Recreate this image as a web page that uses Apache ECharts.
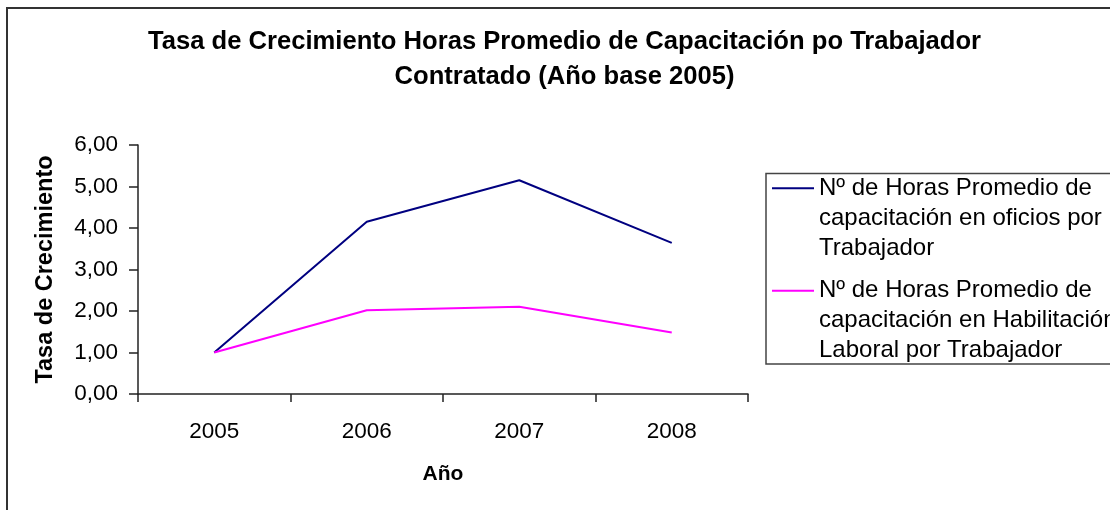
<!DOCTYPE html>
<html>
<head>
<meta charset="utf-8">
<script src="https://cdn.jsdelivr.net/npm/echarts@6/dist/echarts.min.js"></script>
<style>
html,body{margin:0;padding:0;background:#fff;}
#c{width:1110px;height:510px;}
</style>
</head>
<body>
<div id="c"></div>
<script>
var titleLines = ['Tasa de Crecimiento Horas Promedio de Capacitación po Trabajador', 'Contratado (Año base 2005)'];
var years = ['2005', '2006', '2007', '2008'];
var oficios = [1.00, 4.15, 5.15, 3.64];
var habilitacion = [1.00, 2.02, 2.10, 1.48];
var legendOficios = ['Nº de Horas Promedio de', 'capacitación en oficios por', 'Trabajador'];
var legendHabilitacion = ['Nº de Horas Promedio de', 'capacitación en Habilitación', 'Laboral por Trabajador'];
var yAxisName = 'Tasa de Crecimiento';
var xAxisName = 'Año';

var FONT = '"Liberation Sans", Arial, sans-serif';
var nameOf = legendOficios.join(' ');
var nameHab = legendHabilitacion.join(' ');
var legendMap = {};
// two leading empty lines keep the icon level with the first text line
legendMap[nameOf] = '\n\n' + legendOficios.join('\n');
legendMap[nameHab] = '\n\n' + legendHabilitacion.join('\n');

function legendCfg(name, top) {
  return {
    data: [name],
    left: 772,
    top: top,
    padding: 0,
    orient: 'vertical',
    icon: 'rect',
    itemWidth: 42,
    itemHeight: 2,
    selectedMode: false,
    formatter: function (n) { return legendMap[n]; },
    textStyle: {
      fontFamily: FONT,
      fontSize: 24,
      color: '#000',
      lineHeight: 30
    }
  };
}

var chart = echarts.init(document.getElementById('c'), null, {renderer: 'canvas'});
chart.setOption({
  animation: false,
  backgroundColor: '#fff',
  title: {
    text: titleLines.join('\n'),
    left: 564.5,
    top: 24,
    padding: 0,
    textAlign: 'center',
    textStyle: {
      fontFamily: FONT,
      fontSize: 25.6,
      fontWeight: 'bold',
      color: '#000',
      lineHeight: 35
    }
  },
  graphic: [
    {
      type: 'rect',
      shape: {x: 7, y: 8, width: 1120, height: 520},
      style: {fill: 'none', stroke: '#333', lineWidth: 2},
      silent: true
    },
    {
      type: 'rect',
      shape: {x: 766, y: 173.5, width: 400, height: 190.5},
      style: {fill: 'none', stroke: '#444', lineWidth: 1.5},
      silent: true
    }
  ],
  legend: [
    legendCfg(nameOf, 113.3),
    legendCfg(nameHab, 215.7)
  ],
  grid: {left: 138, right: 362, top: 145, bottom: 116, containLabel: false},
  xAxis: {
    type: 'category',
    data: years,
    boundaryGap: true,
    name: xAxisName,
    nameLocation: 'middle',
    nameGap: 70,
    nameTextStyle: {fontFamily: FONT, fontSize: 21, fontWeight: 'bold', color: '#000'},
    axisLine: {lineStyle: {color: '#222', width: 1.5}},
    axisTick: {show: true, length: 8, lineStyle: {color: '#222', width: 1.5}},
    axisLabel: {fontFamily: FONT, fontSize: 22.5, color: '#000', margin: 26},
    splitLine: {show: false}
  },
  yAxis: {
    type: 'value',
    min: 0,
    max: 6,
    interval: 1,
    name: yAxisName,
    nameLocation: 'middle',
    nameGap: 80,
    nameRotate: 90,
    nameTextStyle: {fontFamily: FONT, fontSize: 23.5, fontWeight: 'bold', color: '#000'},
    axisLine: {show: true, lineStyle: {color: '#222', width: 1.5}},
    axisTick: {show: true, length: 9, lineStyle: {color: '#222', width: 1.5}},
    axisLabel: {
      fontFamily: FONT, fontSize: 22.5, color: '#000', margin: 20,
      formatter: function (v) { return v.toFixed(2).replace('.', ','); }
    },
    splitLine: {show: false}
  },
  series: [
    {
      name: nameOf,
      type: 'line',
      data: oficios,
      symbol: 'none',
      lineStyle: {color: '#000080', width: 2},
      itemStyle: {color: '#000080'}
    },
    {
      name: nameHab,
      type: 'line',
      data: habilitacion,
      symbol: 'none',
      lineStyle: {color: '#FF00FF', width: 2},
      itemStyle: {color: '#FF00FF'}
    }
  ]
});
</script>
</body>
</html>
